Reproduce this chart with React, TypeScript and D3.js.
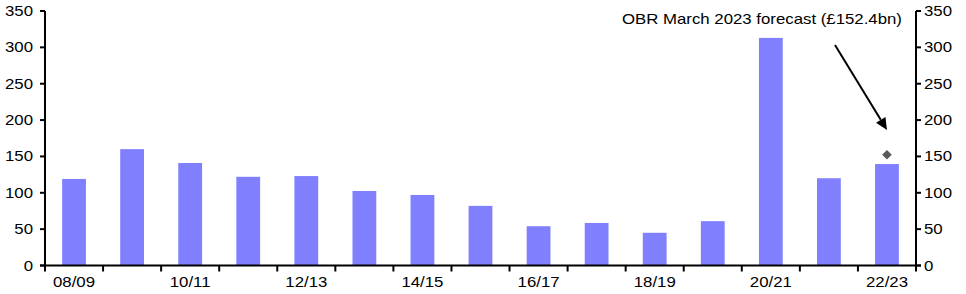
import React from "react";
import * as d3 from "d3";

const categories = ["08/09","09/10","10/11","11/12","12/13","13/14","14/15","15/16","16/17","17/18","18/19","19/20","20/21","21/22","22/23"];
const borrowing = [119, 160, 141, 122, 123, 102.5, 97, 82, 54, 58.5, 45, 61, 313, 120, 139.5];
const forecastCategory = "22/23";
const forecastValue = 152.4;
const yTicks = [0, 50, 100, 150, 200, 250, 300, 350];
const labelledCategories = ["08/09","10/11","12/13","14/15","16/17","18/19","20/21","22/23"];
const annotation = "OBR March 2023 forecast (£152.4bn)";

const W = 966, H = 294;
const left = 45, right = 916, top = 11, bottom = 265.5;
const font = "'Liberation Sans', Arial, sans-serif";
const SX = 1.2;

export default function App() {
  const x = d3.scaleBand<string>().domain(categories).range([left, right]).padding(0);
  const y = d3.scaleLinear().domain([0, 350]).range([bottom, top]);
  const bw = x.bandwidth();
  const barW = bw * 0.41;
  const fx = x(forecastCategory)! + bw / 2;
  const fy = y(forecastValue);
  const ds = 4.8;

  // arrow
  const ax1 = 835, ay1 = 45, ax2 = 887, ay2 = 130;
  const ang = Math.atan2(ay2 - ay1, ax2 - ax1);
  const hl = 12, hw = 5.5;
  const bx = ax2 - hl * Math.cos(ang), by = ay2 - hl * Math.sin(ang);
  const px = -Math.sin(ang) * hw, py = Math.cos(ang) * hw;

  const txt = (s: string, tx: number, ty: number, anchor: string, key?: any) => (
    <text key={key} transform={`translate(${tx},${ty}) scale(${SX},1)`} textAnchor={anchor}
      fontFamily={font} fontSize={14} fill="#000">{s}</text>
  );

  return (
    <svg width={W} height={H} style={{ position: "absolute", left: 0, top: 0, background: "#fff" }}>
      {categories.map((c, i) => (
        <rect key={c} x={x(c)! + (bw - barW) / 2} y={y(borrowing[i])} width={barW}
          height={y(0) - y(borrowing[i])} fill="#8080FF" />
      ))}
      <path d={`M${fx},${fy - ds} L${fx + ds},${fy} L${fx},${fy + ds} L${fx - ds},${fy} Z`} fill="#595959" />
      {/* axes */}
      <line x1={left} x2={left} y1={top} y2={bottom} stroke="#000" strokeWidth={2} />
      <line x1={right} x2={right} y1={top} y2={bottom} stroke="#000" strokeWidth={2} />
      <line x1={left - 5} x2={right + 5} y1={bottom} y2={bottom} stroke="#000" strokeWidth={2} />
      {yTicks.map(t => (
        <g key={t}>
          <line x1={left - 5} x2={left} y1={y(t)} y2={y(t)} stroke="#000" strokeWidth={2} />
          <line x1={right} x2={right + 5} y1={y(t)} y2={y(t)} stroke="#000" strokeWidth={2} />
          {txt(String(t), 33, y(t) + 5, "end")}
          {txt(String(t), 924, y(t) + 5, "start")}
        </g>
      ))}
      {d3.range(categories.length + 1).map(i => {
        const tx = left + i * bw;
        return <line key={i} x1={tx} x2={tx} y1={bottom} y2={bottom + 6} stroke="#000" strokeWidth={2} />;
      })}
      {labelledCategories.map(c => txt(c, x(c)! + bw / 2, 287, "middle", c))}
      {/* annotation */}
      {txt(annotation, 622, 24, "start")}
      <line x1={ax1} y1={ay1} x2={bx} y2={by} stroke="#000" strokeWidth={2} />
      <path d={`M${ax2},${ay2} L${bx + px},${by + py} L${bx - px},${by - py} Z`} fill="#000" />
    </svg>
  );
}
